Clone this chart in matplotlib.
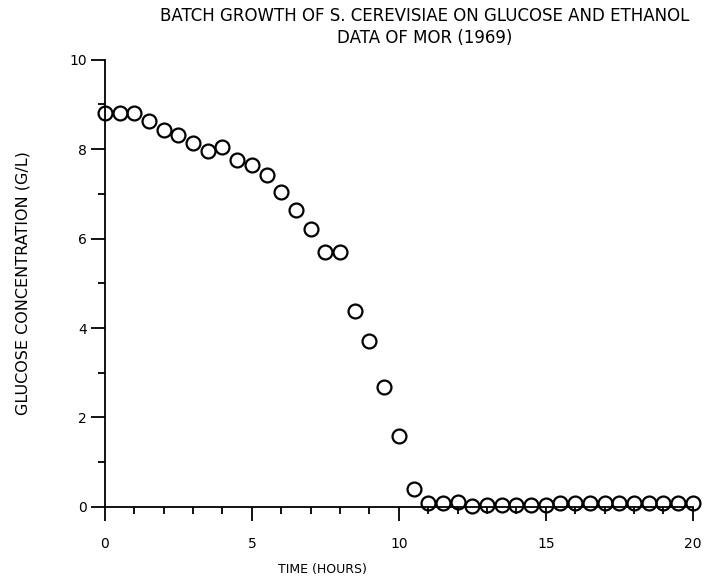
import matplotlib
matplotlib.use("Agg")
import matplotlib.pyplot as plt
from matplotlib.ticker import MultipleLocator

# glucose measurements, MOR (1969)
time_h = [0.0, 0.5, 1.0, 1.5, 2.0, 2.5, 3.0, 3.5, 4.0, 4.5, 5.0, 5.5, 6.0,
          6.5, 7.0, 7.5, 8.0, 8.5, 9.0, 9.5, 10.0, 10.5, 11.0, 11.5, 12.0,
          12.5, 13.0, 13.5, 14.0, 14.5, 15.0, 15.5, 16.0, 16.5, 17.0, 17.5,
          18.0, 18.5, 19.0, 19.5, 20.0]
glucose = [8.80, 8.80, 8.81, 8.62, 8.42, 8.32, 8.13, 7.95, 8.04, 7.75, 7.64,
           7.43, 7.04, 6.64, 6.22, 5.71, 5.71, 4.38, 3.70, 2.69, 1.59, 0.40,
           0.08, 0.08, 0.10, 0.02, 0.05, 0.05, 0.05, 0.05, 0.05, 0.08, 0.08,
           0.08, 0.08, 0.08, 0.08, 0.08, 0.08, 0.08, 0.08]

fig = plt.figure(figsize=(7.04, 5.80), dpi=100)
ax = fig.add_axes([0.149, 0.126, 0.835, 0.771])

ax.plot(time_h, glucose, linestyle="none", marker="o", markersize=10,
        markerfacecolor="none", markeredgecolor="black", markeredgewidth=1.6,
        clip_on=False)

ax.set_xlim(0, 20)
ax.set_ylim(0, 10)
ax.xaxis.set_major_locator(MultipleLocator(5))
ax.xaxis.set_minor_locator(MultipleLocator(1))
ax.yaxis.set_major_locator(MultipleLocator(2))
ax.yaxis.set_minor_locator(MultipleLocator(1))

for side in ("top", "right"):
    ax.spines[side].set_visible(False)
for side in ("left", "bottom"):
    ax.spines[side].set_linewidth(1.3)

ax.tick_params(which="major", direction="out", length=10, width=1.3,
               labelsize=10)
ax.tick_params(which="minor", direction="out", length=5, width=1.3)
ax.tick_params(axis="x", which="major", pad=12)
ax.tick_params(axis="y", which="major", pad=3)

ax.text(0.544, 1.028, "BATCH GROWTH OF S. CEREVISIAE ON GLUCOSE AND ETHANOL\n"
        "DATA OF MOR (1969)", transform=ax.transAxes, fontsize=12,
        linespacing=1.3, ha="center", va="bottom", multialignment="center")
ax.set_ylabel("GLUCOSE CONCENTRATION (G/L)", fontsize=11.5, labelpad=28)
ax.set_xlabel("TIME (HOURS)", fontsize=9)
ax.xaxis.set_label_coords(0.37, -0.125)

fig.savefig("out.png", dpi=100)
